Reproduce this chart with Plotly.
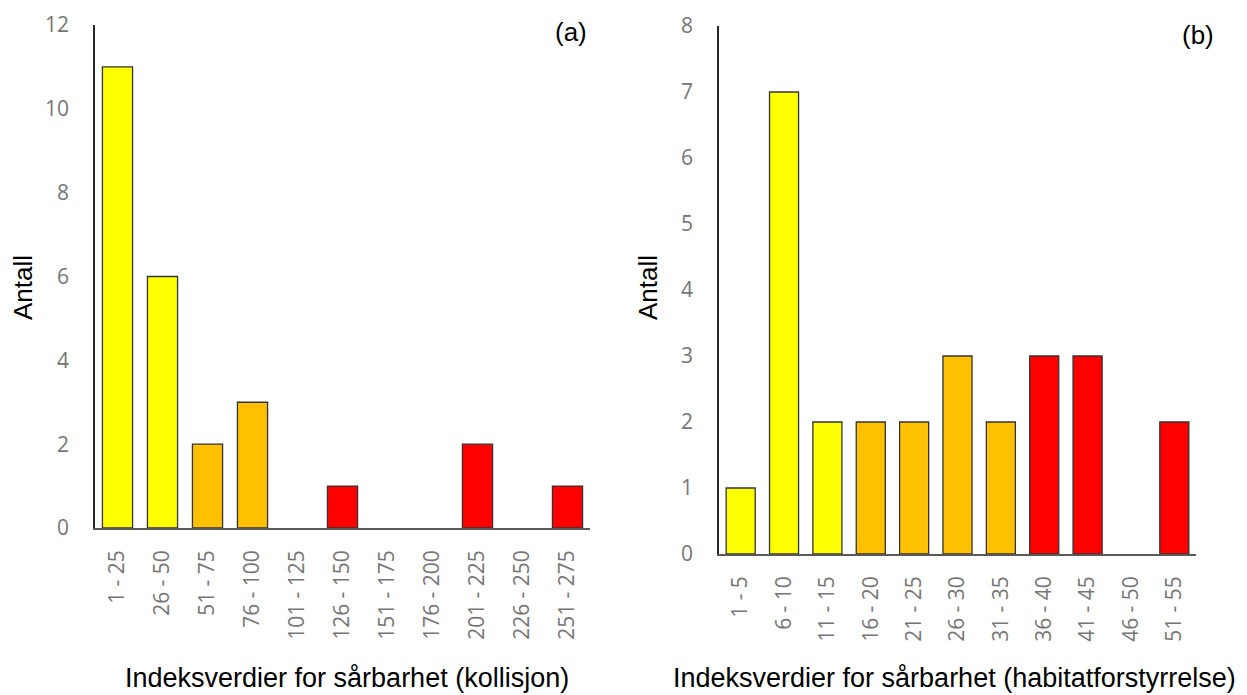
import plotly.graph_objects as go

# panel (a): kollisjon
kollisjon_kategorier = ['1 - 25', '26 - 50', '51 - 75', '76 - 100', '101 - 125', '126 - 150',
                        '151 - 175', '176 - 200', '201 - 225', '226 - 250', '251 - 275']
kollisjon_antall = [11, 6, 2, 3, 0, 1, 0, 0, 2, 0, 1]
kollisjon_klasse = ['lav', 'lav', 'middels', 'middels', 'middels', 'hoy',
                    'hoy', 'hoy', 'hoy', 'hoy', 'hoy']

# panel (b): habitatforstyrrelse
habitat_kategorier = ['1 - 5', '6 - 10', '11 - 15', '16 - 20', '21 - 25', '26 - 30',
                      '31 - 35', '36 - 40', '41 - 45', '46 - 50', '51 - 55']
habitat_antall = [1, 7, 2, 2, 2, 3, 2, 3, 3, 0, 2]
habitat_klasse = ['lav', 'lav', 'lav', 'middels', 'middels', 'middels',
                  'middels', 'hoy', 'hoy', 'hoy', 'hoy']

FARGER = {'lav': '#FFFF00', 'middels': '#FFC000', 'hoy': '#FF0000'}

W, H = 1247, 695
TICK_FONT = dict(family='Open Sans', size=21, color='#767676')
YTITLE_FONT = dict(family='Liberation Sans, Arial', size=26, color='black')
XTITLE_FONT = dict(family='Liberation Sans, Arial', size=27, color='black')


def px_x(v):
    return v / W


def px_y(v):
    return 1 - v / H


def bar_trace(kategorier, antall, klasse, xa, ya):
    # no outline on empty categories
    return go.Bar(
        x=kategorier, y=antall,
        marker=dict(color=[FARGER[k] for k in klasse],
                    line=dict(color='#333333', width=[1.3 if v else 0 for v in antall])),
        xaxis=xa, yaxis=ya, showlegend=False, hoverinfo='skip',
    )


fig = go.Figure()
fig.add_trace(bar_trace(kollisjon_kategorier, kollisjon_antall, kollisjon_klasse, 'x', 'y'))
fig.add_trace(bar_trace(habitat_kategorier, habitat_antall, habitat_klasse, 'x2', 'y2'))

x_common = dict(
    tickangle=-90, tickfont=TICK_FONT, showgrid=False, zeroline=False, automargin=False,
    showline=True, linecolor='#595959', linewidth=1.5,
    ticks='outside', ticklen=12, tickcolor='rgba(0,0,0,0)', fixedrange=True,
)
y_common = dict(
    tickfont=TICK_FONT, showgrid=False, zeroline=False, automargin=False,
    showline=True, linecolor='#262626', linewidth=1.5,
    ticks='outside', ticklen=20, tickcolor='rgba(0,0,0,0)', fixedrange=True,
)

fig.update_layout(
    template='none',
    width=W, height=H,
    margin=dict(l=0, r=0, t=0, b=0),
    plot_bgcolor='white', paper_bgcolor='white',
    bargap=0.33,
    xaxis=dict(domain=[px_x(95), px_x(590)], anchor='y', **x_common),
    yaxis=dict(domain=[px_y(528), px_y(25)], anchor='x', range=[0, 12], dtick=2, **y_common),
    xaxis2=dict(domain=[px_x(719), px_x(1196)], anchor='y2', **x_common),
    yaxis2=dict(domain=[px_y(554), px_y(26)], anchor='x2', range=[0, 8], dtick=1, **y_common),
    annotations=[
        dict(text='Antall', x=px_x(23), y=px_y(288), textangle=-90, font=YTITLE_FONT),
        dict(text='Antall', x=px_x(648), y=px_y(288), textangle=-90, font=YTITLE_FONT),
        dict(text='Indeksverdier for sårbarhet (kollisjon)', x=px_x(347), y=px_y(678), font=XTITLE_FONT),
        dict(text='Indeksverdier for sårbarhet (habitatforstyrrelse)', x=px_x(955), y=px_y(678), font=XTITLE_FONT),
        dict(text='(a)', x=px_x(571), y=px_y(32), font=YTITLE_FONT),
        dict(text='(b)', x=px_x(1198), y=px_y(35), font=YTITLE_FONT),
    ],
)
for a in fig.layout.annotations:
    a.update(xref='paper', yref='paper', showarrow=False, xanchor='center', yanchor='middle')

# drop the default page margin so the figure sits at the window's top-left corner
fig.write_html('out.html', config={'displayModeBar': False},
               post_script="document.body.style.margin='0';")
